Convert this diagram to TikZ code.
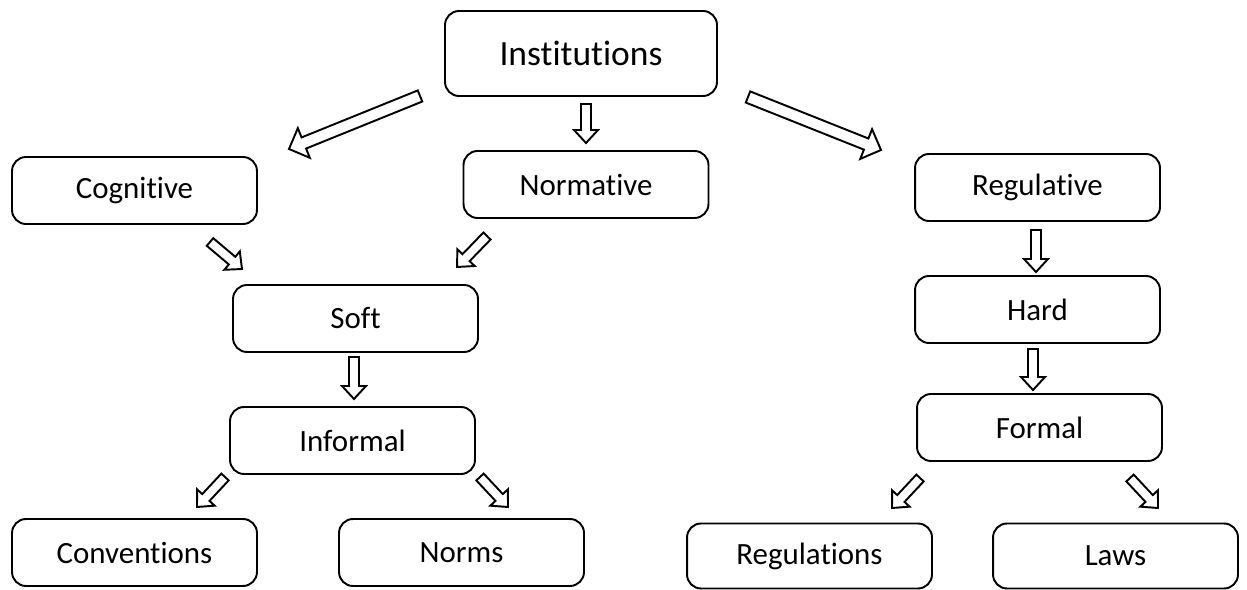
\documentclass[tikz,border=0pt]{standalone}
\usepackage{fontspec}
\setmainfont[RawFeature=-liga]{Carlito}
\usetikzlibrary{calc}

\tikzset{
  box/.style={draw, rounded corners=0.28cm, line width=1.1pt, minimum width=4.9cm, minimum height=1.34cm, font=\fontsize{17.6}{21}\selectfont},
  topbox/.style={box, minimum width=5.44cm, minimum height=1.7cm, font=\fontsize{20.2}{24}\selectfont},
  arrowline/.style={draw, line width=1.1pt, fill=white, line join=miter}
}

% hollow block arrow: from, to, shaft half width, head half width, head length
\newcommand{\blockarrow}[5]{
  \coordinate (tiphead) at ($(#2)!#5!(#1)$);
  \path[arrowline] ($(#1)!#3!90:(#2)$) -- ($(tiphead)!#3!-90:(#1)$) -- ($(tiphead)!#4!-90:(#1)$)
    -- (#2) -- ($(tiphead)!#4!90:(#1)$) -- ($(tiphead)!#3!90:(#1)$) -- ($(#1)!#3!-90:(#2)$) -- cycle;
}

\begin{document}
\begin{tikzpicture}[x=0.02cm,y=-0.02cm]
\useasboundingbox (0,0) rectangle (1247,590);

\node[topbox] (inst) at (581,53.5) {Institutions};
\node[box] (cog) at (134.5,190.5) {Cognitive};
\node[box] (norm) at (586,184.5) {Normative};
\node[box] (reg) at (1037.5,187.5) {Regulative};
\node[box] (soft) at (355.5,318.5) {Soft};
\node[box] (inf) at (352.5,440.5) {Informal};
\node[box] (hard) at (1037.5,309.5) {Hard};
\node[box] (form) at (1039.5,427.5) {Formal};
\node[box] (conv) at (134.5,552.5) {Conventions};
\node[box] (norms) at (461.5,552.5) {Norms};
\node[box, minimum height=1.3cm] (regs) at (809.5,556) {Regulations};
\node[box, minimum height=1.3cm] (laws) at (1115.5,556) {Laws};

% arrow ends
\coordinate (ic1) at (420,96);  \coordinate (ic2) at (289,149);
\coordinate (in1) at (586,104); \coordinate (in2) at (586,143);
\coordinate (ir1) at (748,97);  \coordinate (ir2) at (881,150);
\coordinate (cs1) at (210,242); \coordinate (cs2) at (242,269);
\coordinate (ns1) at (487,236); \coordinate (ns2) at (457,267);
\coordinate (si1) at (354,357); \coordinate (si2) at (354,399);
\coordinate (ic3) at (225,477); \coordinate (ic4) at (197,507);
\coordinate (in3) at (480,477); \coordinate (in4) at (508,507);
\coordinate (rh1) at (1036,230); \coordinate (rh2) at (1036,272);
\coordinate (hf1) at (1033,349); \coordinate (hf2) at (1033,390);
\coordinate (fr1) at (920,478); \coordinate (fr2) at (892,508);
\coordinate (fl1) at (1130,478); \coordinate (fl2) at (1158,508);

\blockarrow{ic1}{ic2}{0.12cm}{0.32cm}{0.32cm}
\blockarrow{ir1}{ir2}{0.12cm}{0.32cm}{0.32cm}
\blockarrow{in1}{in2}{0.1cm}{0.24cm}{0.26cm}
\blockarrow{cs1}{cs2}{0.1cm}{0.24cm}{0.26cm}
\blockarrow{ns1}{ns2}{0.1cm}{0.24cm}{0.26cm}
\blockarrow{si1}{si2}{0.1cm}{0.24cm}{0.26cm}
\blockarrow{ic3}{ic4}{0.1cm}{0.24cm}{0.26cm}
\blockarrow{in3}{in4}{0.1cm}{0.24cm}{0.26cm}
\blockarrow{rh1}{rh2}{0.1cm}{0.24cm}{0.26cm}
\blockarrow{hf1}{hf2}{0.1cm}{0.24cm}{0.26cm}
\blockarrow{fr1}{fr2}{0.1cm}{0.24cm}{0.26cm}
\blockarrow{fl1}{fl2}{0.1cm}{0.24cm}{0.26cm}

\end{tikzpicture}
\end{document}
